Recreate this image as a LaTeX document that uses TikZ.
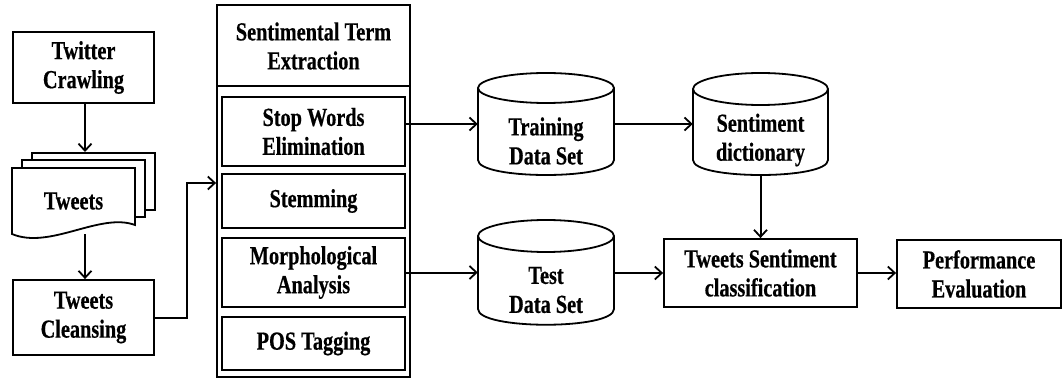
\documentclass[tikz,border=0pt]{standalone}
\usepackage{fontspec}
\setmainfont[FakeStretch=0.78, BoldFeatures={FakeBold=0.5}]{Liberation Serif}
\usetikzlibrary{arrows.meta,calc}
\begin{document}
\begin{tikzpicture}[x=1pt,y=-1pt,
  every node/.style={font=\fontsize{26}{29}\selectfont\bfseries, align=center},
  box/.style={draw, line width=1.8pt, inner sep=0pt},
  ghost/.style={inner sep=0pt},
  ln/.style={line width=1.8pt},
  arr/.style={line width=2pt, -{Straight Barb[length=7pt,width=13pt,line width=1.8pt]}}]
\useasboundingbox (0,0) rectangle (1062,379);

% left column
\node[box, minimum width=141pt, minimum height=71pt] (tc) at (83.5,67.5) {Twitter\\Crawling};
% tweets document stack
\draw[ln, fill=white] (32,153) rectangle (155,210);
\draw[ln, fill=white] (22,160) rectangle (145,217);
\draw[ln, fill=white] (12,168) -- (135,168) -- (135,225) .. controls (100,212) and (50,250) .. (12,234) -- cycle;
\node[ghost, minimum width=123pt, minimum height=66pt] (tweets) at (73.5,201) {Tweets};
\coordinate (stacktop) at (85,152);
\node[box, minimum width=141pt, minimum height=75pt] (cl) at (83.5,317.5) {Tweets\\Cleansing};

% sentimental term extraction
\node[box, minimum width=193pt, minimum height=372pt] (ste) at (313.5,191) {};
\draw[ln] (ste.west |- 0,86) -- (ste.east |- 0,86);
\node (hdr) at (313.5,46) {Sentimental Term\\Extraction};
\node[box, minimum width=183pt, minimum height=69pt] (sw) at (313.5,131.5) {Stop Words\\Elimination};
\node[box, minimum width=183pt, minimum height=54pt] (stem) at (313.5,201) {Stemming};
\node[box, minimum width=183pt, minimum height=69pt] (morph) at (313.5,272.5) {Morphological\\Analysis};
\node[box, minimum width=183pt, minimum height=53pt] (pos) at (313.5,343.5) {POS Tagging};

% cylinders
\draw[ln, fill=white] (478,88) -- (478,160) .. controls (478,180) and (614,180) .. (614,160) -- (614,88);
\draw[ln] (546,88) ellipse[x radius=68, y radius=15];
\node[ghost, minimum width=136pt, minimum height=102pt] (train) at (546,124) {};
\node (trainT) at (546,141) {Training\\Data Set};

\draw[ln, fill=white] (478,236) -- (478,309) .. controls (478,330) and (614,330) .. (614,309) -- (614,236);
\draw[ln] (546,236) ellipse[x radius=68, y radius=16];
\node[ghost, minimum width=136pt, minimum height=105pt] (test) at (546,272.5) {};
\node (testT) at (546,290) {Test\\Data Set};

\draw[ln, fill=white] (693,89) -- (693,160) .. controls (693,180) and (828,180) .. (828,160) -- (828,89);
\draw[ln] (760.5,89) ellipse[x radius=67.5, y radius=16];
\node[ghost, minimum width=135pt, minimum height=102pt] (dict) at (760.5,124) {};
\node (dictT) at (760.5,140) {Sentiment\\dictionary};

\node[box, minimum width=193pt, minimum height=68pt] (tsc) at (760.5,273) {Tweets Sentiment\\classification};
\node[box, minimum width=164pt, minimum height=68pt] (perf) at (979,274) {Performance\\Evaluation};

% connectors
\draw[arr] (tc.south -| stacktop) -- (stacktop);
\draw[arr] (tweets.south -| stacktop) -- (cl.north -| stacktop);
\coordinate (jn) at (187,183);
\draw[arr] (cl.east) -| (jn) -- (jn -| ste.west);
\draw[arr] (sw.east |- train.west) -- (train.west);
\draw[arr] (morph.east |- test.west) -- (test.west);
\draw[arr] (train.east) -- (dict.west);
\draw[arr] (dict.south) -- (tsc.north);
\draw[arr] (test.east |- tsc.west) -- (tsc.west);
\draw[arr] (tsc.east) -- (tsc.east -| perf.west);
\end{tikzpicture}
\end{document}
